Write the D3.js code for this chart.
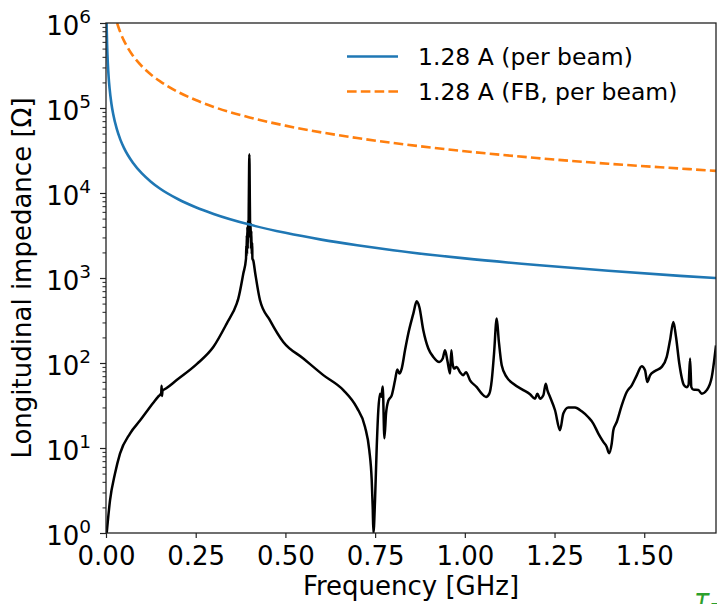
<!DOCTYPE html>
<html>
<head>
<meta charset="utf-8">
<script src="https://cdn.jsdelivr.net/npm/d3@7"></script>
<style>
  html, body { margin: 0; padding: 0; background: #fff; }
  svg { display: block; font-family: "DejaVu Sans", sans-serif; }
</style>
</head>
<body>
<svg id="chart" width="717" height="604"></svg>
<script>
// ---- data ----
const xTicks = [0, 0.25, 0.5, 0.75, 1.0, 1.25, 1.5];
const yExponents = [0, 1, 2, 3, 4, 5, 6];

const seriesNames = ["1.28 A (per beam)", "1.28 A (FB, per beam)"];

const blueFreq = [0.0017, 0.002, 0.003, 0.004, 0.005, 0.0075, 0.01, 0.015, 0.02, 0.03, 0.04, 0.05, 0.075, 0.1, 0.125, 0.15, 0.2, 0.25, 0.3, 0.4, 0.5, 0.6, 0.7, 0.8, 1.0, 1.2, 1.4, 1.6, 1.7];
const blueZ    = [1000000, 850000, 567000, 425000, 340000, 227000, 170000, 113000, 85000, 56700, 42500, 34000, 22700, 17000, 13600, 11300, 8500, 6800, 5670, 4250, 3400, 2830, 2430, 2125, 1700, 1420, 1215, 1060, 1000];

const orangeFreq = [0.031, 0.035, 0.04, 0.05, 0.06, 0.075, 0.1, 0.125, 0.15, 0.2, 0.25, 0.3, 0.4, 0.5, 0.6, 0.7, 0.8, 1.0, 1.2, 1.4, 1.6, 1.7];
const orangeZ    = [1000000, 886000, 775000, 620000, 517000, 413000, 310000, 248000, 207000, 155000, 124000, 103000, 77500, 62000, 51700, 44300, 38800, 31000, 25800, 22100, 19400, 18200];

const impFreq = [0.002, 0.0111, 0.0251, 0.039, 0.0669, 0.0948, 0.1318, 0.145, 0.1538, 0.155, 0.156, 0.1575, 0.167, 0.197, 0.2528, 0.299, 0.3364, 0.3643, 0.3687, 0.3827, 0.3902,
  0.391, 0.3915, 0.3925, 0.393, 0.394, 0.395, 0.396, 0.397, 0.398, 0.3995, 0.401, 0.402, 0.403, 0.404, 0.405, 0.406, 0.4075, 0.408, 0.4105, 0.416, 0.4292,
  0.457, 0.4941, 0.5499, 0.6056, 0.6614, 0.6987, 0.7219, 0.7338, 0.7405, 0.7433, 0.7453, 0.7497, 0.7545, 0.7589, 0.7637, 0.7673, 0.7712, 0.7759, 0.7804, 0.7868, 0.7963,
  0.8055, 0.8119, 0.8175, 0.8241, 0.8333, 0.8425, 0.8565, 0.8659, 0.8732, 0.8843, 0.8983, 0.9122, 0.9289, 0.9384, 0.9448, 0.9512, 0.9588, 0.9624, 0.9657, 0.9699, 0.9774,
  0.9866, 0.9958, 1.0033, 1.0145, 1.0332, 1.0471, 1.0591, 1.0683, 1.075, 1.0814, 1.0889, 1.0945, 1.1028, 1.1168, 1.1352, 1.163, 1.1817, 1.1957, 1.2021, 1.2096, 1.2188,
  1.2255, 1.23, 1.2375, 1.2514, 1.2653, 1.2745, 1.2885, 1.3071, 1.3258, 1.3442, 1.3581, 1.3721, 1.386, 1.3955, 1.4019, 1.4094, 1.4139, 1.4233, 1.4373, 1.4512, 1.4652,
  1.4791, 1.493, 1.5022, 1.5086, 1.5162, 1.53, 1.5488, 1.5627, 1.5719, 1.5812, 1.5886, 1.5978, 1.6109, 1.6184, 1.6235, 1.6277, 1.6313, 1.6369, 1.6508, 1.6603, 1.6742, 1.6881, 1.7];
const impZ = [1.0, 2.4, 5.0, 8.6, 14.8, 21, 34, 40, 44, 54, 41, 47, 50, 63, 97, 154, 291, 500, 572, 1130, 1690,
  2400, 1800, 3200, 1900, 4000, 2200, 4800, 3000, 8000, 28500, 7000, 3000, 4500, 2200, 3600, 1900, 2600, 1700, 1600, 1130, 547,
  318, 177, 113, 72, 48, 30, 17.7, 9.4, 4.2, 2.0, 1.0, 2.4, 10.3, 27.8, 43.6, 40, 53, 13, 25.4, 36, 41.7,
  62.6, 83.6, 75, 86, 141, 222, 381, 532, 456, 243, 148, 118, 103, 113, 141, 108, 75, 141, 100, 86, 90,
  78, 72, 78, 62.6, 52, 43.6, 39.8, 43.6, 62.6, 129, 333, 185, 94, 68, 57, 48, 43, 38, 43.6, 38, 41.7,
  57, 48, 39.8, 27.8, 16.2, 25.4, 30, 29.9, 27, 23, 19.4, 14.8, 11.8, 10.3, 8.7, 11.3, 16.2, 20.2, 31.8, 45.6, 54.7,
  71.6, 91.5, 82, 59.8, 71.6, 80.5, 90, 118, 185, 304, 202, 98, 54.7, 52, 55, 113, 52, 48.6, 48, 43.6, 48, 68, 161];

// ---- layout ----
const svg = d3.select("#chart");
const mLeft = 106, mRight = 716, mTop = 23, mBottom = 533;

const x = d3.scaleLinear().domain([0, 1.7]).range([mLeft, mRight]);
const y = d3.scaleLog().domain([1, 1e6]).range([mBottom, mTop]);

const defs = svg.append("defs");
defs.append("clipPath").attr("id", "plotclip")
  .append("rect").attr("x", mLeft).attr("y", mTop).attr("width", mRight - mLeft).attr("height", mBottom - mTop);

const plot = svg.append("g").attr("clip-path", "url(#plotclip)");

const lineGen = d3.line().x(d => x(d[0])).y(d => y(d[1])).curve(d3.curveMonotoneX);

plot.append("path")
  .datum(d3.zip(impFreq, impZ))
  .attr("d", lineGen)
  .attr("fill", "none").attr("stroke", "#000").attr("stroke-width", 2.5)
  .attr("stroke-linejoin", "round");

plot.append("path")
  .datum(d3.zip(blueFreq, blueZ))
  .attr("d", lineGen)
  .attr("fill", "none").attr("stroke", "#1f77b4").attr("stroke-width", 2.6);

plot.append("path")
  .datum(d3.zip(orangeFreq, orangeZ))
  .attr("d", lineGen)
  .attr("fill", "none").attr("stroke", "#ff7f0e").attr("stroke-width", 2.6)
  .attr("stroke-dasharray", "9.6,4.2");

// ---- axes ----
const xAxis = d3.axisBottom(x).tickValues(xTicks).tickFormat(d3.format(".2f")).tickSize(5).tickPadding(8);
const gx = svg.append("g").attr("transform", `translate(0,${mBottom})`).call(xAxis);
gx.select(".domain").remove();
gx.selectAll(".tick line").attr("stroke", "#222").attr("stroke-width", 1.2);
gx.selectAll(".tick text").attr("font-size", 26).attr("fill", "#000")
  .attr("font-family", "DejaVu Sans").attr("dy", null).attr("y", 32);

const minorVals = [];
yExponents.slice(0, -1).forEach(e => { for (let k = 2; k <= 9; k++) minorVals.push(k * Math.pow(10, e)); });
const yMinor = d3.axisLeft(y).tickValues(minorVals).tickFormat("").tickSize(3.5);
const gym = svg.append("g").attr("transform", `translate(${mLeft},0)`).call(yMinor);
gym.select(".domain").remove();
gym.selectAll(".tick line").attr("stroke", "#222").attr("stroke-width", 1);

const yMajor = d3.axisLeft(y).tickValues(yExponents.map(e => Math.pow(10, e))).tickFormat("").tickSize(6);
const gy = svg.append("g").attr("transform", `translate(${mLeft},0)`).call(yMajor);
gy.select(".domain").remove();
gy.selectAll(".tick line").attr("stroke", "#222").attr("stroke-width", 1.2);
gy.selectAll(".tick").each(function(d) {
  const t = d3.select(this).select("text");
  const e = Math.round(Math.log10(d));
  t.text(null).attr("x", -15).attr("dy", null).attr("y", 0)
    .attr("fill", "#000").attr("font-family", "DejaVu Sans").attr("text-anchor", "end");
  t.append("tspan").attr("font-size", 26).attr("dy", 11).text("10");
  t.append("tspan").attr("font-size", 18.5).attr("dy", -12).text(String(e));
});

// frame
svg.append("rect").attr("x", mLeft).attr("y", mTop).attr("width", mRight - mLeft).attr("height", mBottom - mTop)
  .attr("fill", "none").attr("stroke", "#222").attr("stroke-width", 1.3);

// axis labels
svg.append("text").attr("x", (mLeft + mRight) / 2).attr("y", 595).attr("text-anchor", "middle")
  .attr("font-size", 26).attr("fill", "#000").text("Frequency [GHz]");
svg.append("text").attr("transform", `translate(31,${(mTop + mBottom) / 2}) rotate(-90)`)
  .attr("text-anchor", "middle").attr("font-size", 26).attr("fill", "#000")
  .text("Longitudinal impedance [Ω]");

// legend
const legend = svg.append("g");
const legendStyles = [
  { color: "#1f77b4", dash: null },
  { color: "#ff7f0e", dash: "9.6,4.2" }
];
seriesNames.forEach((name, i) => {
  const ly = 56.5 + i * 35;
  legend.append("line").attr("x1", 347).attr("x2", 398).attr("y1", ly).attr("y2", ly)
    .attr("stroke", legendStyles[i].color).attr("stroke-width", 2.6)
    .attr("stroke-dasharray", legendStyles[i].dash);
  legend.append("text").attr("x", 418).attr("y", ly + 8.5).attr("font-size", 23.5).attr("fill", "#000").text(name);
});

// clipped green annotation at bottom-right corner
svg.append("text").attr("x", 694).attr("y", 608).attr("font-size", 26).attr("font-style", "italic")
  .attr("fill", "#2ca02c").text("τ₋");
</script>
</body>
</html>
